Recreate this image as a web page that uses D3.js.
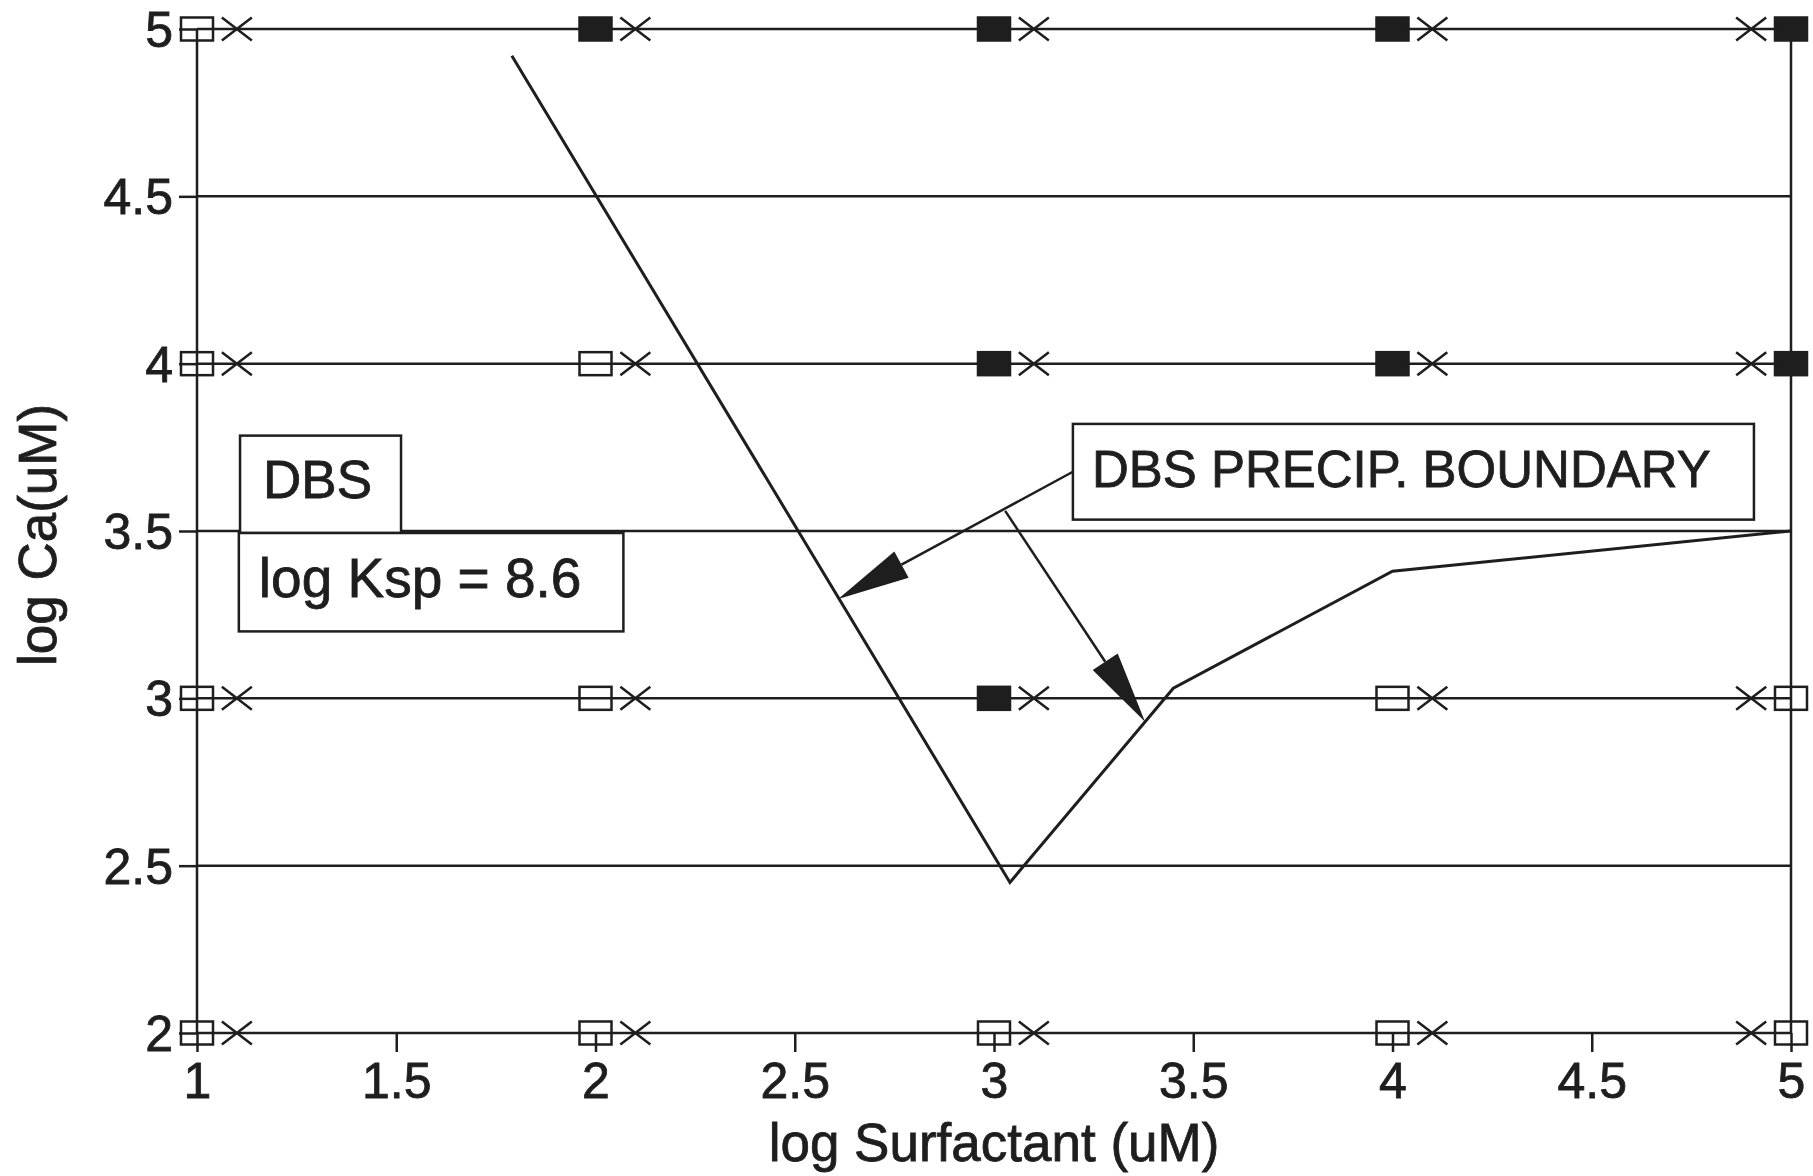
<!DOCTYPE html>
<html>
<head>
<meta charset="utf-8">
<script src="https://cdn.jsdelivr.net/npm/d3@7/dist/d3.min.js"></script>
<style>
  body { margin: 0; background: #fff; }
  text { font-family: "Liberation Sans", Arial, Helvetica, sans-serif; fill: #1e1e1e; stroke: #1e1e1e; stroke-width: 0.8px; }
</style>
</head>
<body>
<script>
// tick values
const xTicks = [1, 1.5, 2, 2.5, 3, 3.5, 4, 4.5, 5];
const yTicks = [2, 2.5, 3, 3.5, 4, 4.5, 5];

// test grid: log surfactant columns, log Ca rows
const surfactant = [1, 2, 3, 4, 5];
const crossSurfactant = [1.1, 2.1, 3.1, 4.1, 4.9];
const calcium = [5, 4, 3, 2];
// 1 = precipitate (filled square), 0 = clear (open square)
const precipCa5 = [0, 1, 1, 1, 1];
const precipCa4 = [0, 0, 1, 1, 1];
const precipCa3 = [0, 0, 1, 0, 0];
const precipCa2 = [0, 0, 0, 0, 0];

// calculated precipitation boundary
const boundaryX = [1.79, 3.04, 3.45, 4.0, 5.0];
const boundaryY = [4.92, 2.45, 3.03, 3.38, 3.5];

const W = 1813, H = 1176;
const ink = "#1e1e1e";

const svg = d3.select("body").append("svg")
    .attr("width", W)
    .attr("height", H)
    .attr("viewBox", `0 0 ${W} ${H}`);

const x = d3.scaleLinear().domain([1, 5]).range([197, 1791]);
const y = d3.scaleLinear().domain([2, 5]).range([1033, 29]);

// horizontal grid lines
svg.append("g").selectAll("line")
    .data(yTicks)
    .join("line")
    .attr("x1", x(1)).attr("x2", x(5))
    .attr("y1", d => y(d)).attr("y2", d => y(d))
    .attr("stroke", ink).attr("stroke-width", 2.5);

// left and right frame
svg.append("g").selectAll("line")
    .data([1, 5])
    .join("line")
    .attr("x1", d => x(d)).attr("x2", d => x(d))
    .attr("y1", y(5)).attr("y2", y(2))
    .attr("stroke", ink).attr("stroke-width", 2.5);

// axes
const xAxis = svg.append("g")
    .attr("transform", `translate(0,${y(2)})`)
    .call(d3.axisBottom(x).tickValues(xTicks).tickSize(19).tickPadding(8)
        .tickFormat(d3.format("")));
const yAxis = svg.append("g")
    .attr("transform", `translate(${x(1)},0)`)
    .call(d3.axisLeft(y).tickValues(yTicks).tickSize(18).tickPadding(6)
        .tickFormat(d3.format("")));
[xAxis, yAxis].forEach(g => {
  g.select(".domain").remove();
  g.selectAll(".tick line").attr("stroke", ink).attr("stroke-width", 2.5);
  g.selectAll(".tick text")
      .attr("fill", ink)
      .style("font-size", "50px")
      .style("font-family", "'Liberation Sans', Arial, sans-serif");
});
yAxis.selectAll(".tick text").attr("dy", "0.35em");
xAxis.selectAll(".tick text").attr("dy", "0.75em");

// axis titles
svg.append("text")
    .attr("x", (x(1) + x(5)) / 2)
    .attr("y", 1161)
    .attr("text-anchor", "middle")
    .style("font-size", "53px")
    .text("log Surfactant (uM)");

svg.append("text")
    .attr("transform", `translate(56,${(402 + 668) / 2}) rotate(-90)`)
    .attr("text-anchor", "middle")
    .style("font-size", "53px")
    .text("log Ca(uM)");

// boundary line
const boundary = boundaryX.map((v, i) => [v, boundaryY[i]]);
svg.append("path")
    .datum(boundary)
    .attr("d", d3.line().x(d => x(d[0])).y(d => y(d[1])))
    .attr("fill", "none")
    .attr("stroke", ink)
    .attr("stroke-width", 3);

// markers
const rows = [precipCa5, precipCa4, precipCa3, precipCa2];
const points = [];
calcium.forEach((ca, r) => {
  surfactant.forEach((s, c) => {
    points.push({ s: s, cs: crossSurfactant[c], ca: ca, filled: rows[r][c] === 1 });
  });
});

const sqW = 32, sqH = 23;
svg.append("g").selectAll("rect")
    .data(points)
    .join("rect")
    .attr("x", d => x(d.s) - sqW / 2)
    .attr("y", d => y(d.ca) - sqH / 2)
    .attr("width", sqW)
    .attr("height", sqH)
    .attr("fill", d => d.filled ? ink : "none")
    .attr("stroke", ink)
    .attr("stroke-width", 2.5);

const cw = 15, ch = 11.5;
svg.append("g").selectAll("path")
    .data(points)
    .join("path")
    .attr("d", d => {
      const cx = x(d.cs), cy = y(d.ca);
      return `M${cx - cw},${cy - ch}L${cx + cw},${cy + ch}M${cx - cw},${cy + ch}L${cx + cw},${cy - ch}`;
    })
    .attr("stroke", ink)
    .attr("stroke-width", 2.5)
    .attr("fill", "none");

// annotation boxes
function box(x0, y0, x1, y1) {
  svg.append("rect")
      .attr("x", x(x0)).attr("y", y(y0))
      .attr("width", x(x1) - x(x0)).attr("height", y(y1) - y(y0))
      .attr("fill", "#fff")
      .attr("stroke", ink)
      .attr("stroke-width", 2.5);
}

box(1.108, 3.785, 1.512, 3.494);
svg.append("text").attr("x", x(1.108) + 23).attr("y", 498)
    .style("font-size", "53px").text("DBS");

box(1.105, 3.494, 2.07, 3.2);
svg.append("text").attr("x", x(1.105) + 20).attr("y", 597)
    .style("font-size", "55px").text("log Ksp = 8.6");

box(3.198, 3.82, 4.907, 3.534);
svg.append("text").attr("x", x(3.198) + 19).attr("y", 487)
    .style("font-size", "51px").text("DBS PRECIP. BOUNDARY");

// leader arrows
function arrow(p0, p1) {
  const [ax, ay] = [x(p0[0]), y(p0[1])];
  const [bx, by] = [x(p1[0]), y(p1[1])];
  const len = Math.hypot(bx - ax, by - ay);
  const ux = (bx - ax) / len, uy = (by - ay) / len;
  const hl = 72, hw = 15;
  const baseX = bx - ux * hl, baseY = by - uy * hl;
  svg.append("line")
      .attr("x1", ax).attr("y1", ay).attr("x2", baseX).attr("y2", baseY)
      .attr("stroke", ink).attr("stroke-width", 2.5);
  svg.append("path")
      .attr("d", `M${bx},${by}L${baseX - uy * hw},${baseY + ux * hw}L${baseX + uy * hw},${baseY - ux * hw}Z`)
      .attr("fill", ink);
}

arrow([3.198, 3.677], [2.609, 3.297]);
arrow([3.028, 3.56], [3.379, 2.93]);
</script>
</body>
</html>
